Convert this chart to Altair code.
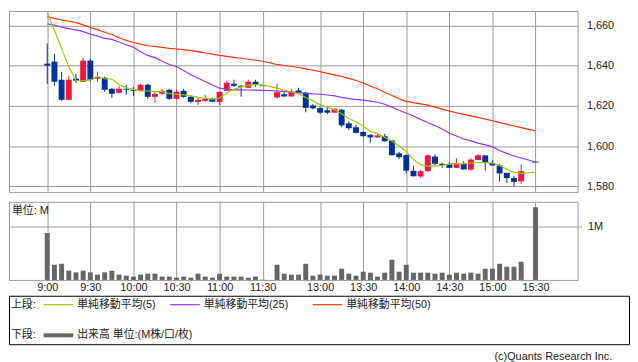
import altair as alt
import pandas as pd

# ---------------- data (5-minute bars) ----------------
times = ["9:00", "9:05", "9:10", "9:15", "9:20", "9:25", "9:30", "9:35", "9:40", "9:45",
         "9:50", "9:55", "10:00", "10:05", "10:10", "10:15", "10:20", "10:25", "10:30", "10:35",
         "10:40", "10:45", "10:50", "10:55", "11:00", "11:05", "11:10", "11:15", "11:20", "11:25",
         "11:30",
         "12:30", "12:35", "12:40", "12:45", "12:50", "12:55", "13:00", "13:05", "13:10", "13:15",
         "13:20", "13:25", "13:30", "13:35", "13:40", "13:45", "13:50", "13:55", "14:00", "14:05",
         "14:10", "14:15", "14:20", "14:25", "14:30", "14:35", "14:40", "14:45", "14:50", "14:55",
         "15:00", "15:05", "15:10", "15:15", "15:20", "15:30"]

opens = [1641, 1642, 1633, 1623, 1633.5, 1632, 1642.5, 1633.5, 1634, 1628.5,
         1626.5, 1628.5, 1628, 1627.5, 1630.5, 1624.5, 1626, 1628, 1623.5, 1627.5,
         1624.5, 1622, 1622.5, 1623.5, 1622, 1627.5, 1631, 1630, 1629, 1632, 1630,
         1624.2, 1625.8, 1624.7, 1627.7, 1626.5, 1620.2, 1618.9, 1617.8, 1616.6, 1618.1,
         1611.3, 1609.4, 1607, 1605.6, 1604.3, 1604.9, 1602.8, 1596.4, 1595.5, 1587.7,
         1584.9, 1587.5, 1594.8, 1591.2, 1591.2, 1589.2, 1591.2, 1588.3, 1593.1, 1595.4,
         1591.6, 1590.4, 1586.7, 1584.1, 1582.5, 1592]
highs = [1651, 1646, 1637, 1635, 1636, 1644, 1643.5, 1637, 1634.5, 1629,
         1630, 1630.5, 1629.5, 1631, 1631, 1627.5, 1628.5, 1628.5, 1628, 1628.5,
         1625, 1624, 1625.5, 1624, 1627, 1632.5, 1633, 1630.5, 1633, 1633, 1630,
         1631, 1627.5, 1628.5, 1629, 1627, 1621, 1619.3, 1619.3, 1618.6, 1618.5,
         1612.3, 1610.6, 1607.3, 1605.8, 1606.4, 1606.1, 1603, 1597.2, 1595.9, 1590.2,
         1588.1, 1595.9, 1595.9, 1591.7, 1592, 1593.9, 1592.5, 1593.9, 1595.9, 1595.4,
         1592.8, 1591.2, 1586.7, 1585.2, 1590.9, 1592]
lows = [1631, 1630, 1622.5, 1623, 1631.5, 1632, 1632, 1632, 1627, 1624,
        1626, 1625.5, 1625, 1627.5, 1623.5, 1621.5, 1625.5, 1623, 1623, 1624,
        1621.5, 1620.5, 1622, 1622, 1620.5, 1627.5, 1629.5, 1624.5, 1629, 1629.5, 1630,
        1623.5, 1624.2, 1624.5, 1625.8, 1616.8, 1618.3, 1616, 1615.8, 1616.6, 1609.4,
        1608, 1606.4, 1604.7, 1601.7, 1604.3, 1602.2, 1595.2, 1593.6, 1586.4, 1584.9,
        1584.3, 1587.3, 1590.4, 1589.2, 1589.2, 1589.2, 1588.4, 1587.8, 1593.1, 1587.9,
        1590.4, 1582.4, 1581.7, 1579.8, 1581.2, 1592]
closes = [1640, 1632, 1623, 1633, 1632.5, 1642.5, 1633, 1634.5, 1628, 1626,
          1628.5, 1628, 1627.5, 1630.5, 1624.5, 1626, 1627.5, 1623.5, 1627, 1624.5,
          1622, 1623, 1623.5, 1622, 1627, 1631.5, 1630, 1629.5, 1632, 1630.5, 1630,
          1626.8, 1624.7, 1627.1, 1626.3, 1619, 1618.8, 1616.6, 1616.6, 1618.6, 1610.3,
          1608.9, 1606.6, 1604.9, 1604.3, 1605.3, 1602.4, 1595.5, 1594.5, 1587.8, 1585,
          1587.5, 1595.4, 1591.2, 1590.4, 1589.2, 1591.6, 1588.4, 1593.3, 1595.4, 1591.9,
          1590.4, 1586.4, 1584.1, 1582.2, 1587.5, 1592]
volume_m = [0.877, 0.284, 0.302, 0.173, 0.142, 0.173, 0.142, 0.099, 0.142, 0.173,
            0.099, 0.080, 0.062, 0.099, 0.117, 0.117, 0.062, 0.062, 0.043, 0.062,
            0.043, 0.117, 0.062, 0.043, 0.117, 0.062, 0.062, 0.062, 0.043, 0.062, 0.006,
            0.284, 0.117, 0.099, 0.099, 0.302, 0.080, 0.099, 0.080, 0.080, 0.210,
            0.117, 0.080, 0.154, 0.136, 0.062, 0.136, 0.377, 0.154, 0.284, 0.136,
            0.136, 0.136, 0.117, 0.136, 0.099, 0.136, 0.117, 0.136, 0.117, 0.210,
            0.210, 0.302, 0.247, 0.247, 0.340, 1.358]
ma5 = [1666.3, 1657.6, 1648.6, 1639.4, 1632.5, 1632.5, 1632.9, 1634.6, 1633.5, 1633.3,
       1630.6, 1629, 1628.2, 1627.4, 1627.4, 1627.1, 1627.1, 1626.1, 1625.8, 1625.5,
       1625, 1624.2, 1623.9, 1623.4, 1623.9, 1626.4, 1628.3, 1629.3, 1630.3, 1630.6, 1630.5,
       1628.8, 1627.8, 1626.9, 1626.1, 1624.2, 1622.6, 1620.5, 1619.4, 1618.1, 1616.1,
       1613.7, 1612.1, 1610, 1607.3, 1606.2, 1604.4, 1602.5, 1600, 1597.3, 1593.3,
       1590.8, 1590, 1590, 1590.4, 1591, 1591.3, 1591.1, 1591.6, 1591.8, 1591.8,
       1591.6, 1590.4, 1588.5, 1586.9, 1586.4, 1587]
ma25 = [1660.8, 1660.2, 1659.2, 1658.4, 1657.8, 1656.9, 1655.7, 1654.7, 1653.6, 1653.1,
        1651.8, 1650.4, 1649.1, 1646.9, 1645.1, 1644, 1642.2, 1640.6, 1639.6, 1637.6,
        1635.5, 1633.7, 1632.1, 1630.4, 1628.8, 1628.2, 1628, 1628, 1627.9, 1627.8, 1627.7,
        1627.4, 1627.2, 1626.9, 1626.6, 1626.3, 1626, 1625.8, 1625.4, 1625, 1624.2,
        1623.6, 1623.2, 1622.9, 1622.4, 1621.8, 1620.8, 1619.4, 1617.8, 1616.3, 1615,
        1613.3, 1611.7, 1610.2, 1608.5, 1606.4, 1605, 1603.5, 1602.6, 1601.5, 1600.6,
        1599.6, 1597.8, 1596.4, 1595.1, 1594.1, 1592.1]
ma50 = [1664.3, 1663.5, 1662.7, 1662.1, 1661.4, 1660.3, 1659, 1657.9, 1656.6, 1655.5,
        1653.9, 1652.6, 1651.5, 1650.7, 1649.9, 1649.6, 1649.1, 1648.6, 1648.3, 1648,
        1647.5, 1647, 1646.3, 1645.7, 1645.1, 1644.6, 1644.1, 1643.7, 1643.2, 1642.7, 1642.2,
        1640.6, 1640.1, 1639.6, 1639.1, 1638.4, 1637.7, 1637, 1636.2, 1635.4, 1634.6,
        1633.7, 1632.6, 1631.4, 1629.9, 1628.5, 1626.8, 1625.2, 1623.6, 1622.2, 1621.6,
        1621, 1620.4, 1619.4, 1618.4, 1617.4, 1616.6, 1615.8, 1615, 1614.2, 1613.4,
        1612.6, 1611.7, 1610.8, 1610, 1609.2, 1607.6]

tick_times = ["9:00", "9:30", "10:00", "10:30", "11:00", "11:30",
              "13:00", "13:30", "14:00", "14:30", "15:00", "15:30"]
price_ticks = [1580, 1600, 1620, 1640, 1660]

legend_title_top = "上段:"
legend_title_bottom = "下段:"
ma_labels = ["単純移動平均(5)", "単純移動平均(25)", "単純移動平均(50)"]
vol_label = "出来高 単位:(M株/口/枚)"
unit_label = "単位: M"
copyright_label = "(c)Quants Research Inc."

# ---------------- styling ----------------
FONT = "Liberation Sans, Noto Sans CJK JP, sans-serif"
GRID = "#9a9a9a"
UP = "#f0163c"
DOWN = "#003399"
MA_COLORS = ["#99cc00", "#9933ff", "#ff3300"]
VOL_COLOR = "#666666"
TEXT = "#222222"


def slot(t):
    # broken time axis: morning session, then afternoon session (lunch compressed)
    h, m = map(int, t.split(":"))
    mins = h * 60 + m
    return (mins - 540) / 5 if mins <= 690 else (mins - 750) / 5 + 32


df = pd.DataFrame({"t": times, "o": opens, "h": highs, "l": lows, "c": closes,
                   "v": volume_m, "ma5": ma5, "ma25": ma25, "ma50": ma50})
df["slot"] = [slot(t) for t in times]

tick_slots = [slot(t) for t in tick_times]
label_expr = "".join(f"datum.value == {s} ? '{t}' : " for s, t in zip(tick_slots, tick_times)) + "''"

W = 575
H_PRICE = 183
H_VOL = 79

xscale = alt.Scale(domain=[-4.64, 73.17], nice=False, zero=False)
pscale = alt.Scale(domain=[1577.2, 1667.2], nice=False, zero=False)

x_price_axis = alt.Axis(values=tick_slots, grid=True, labels=False, ticks=False,
                        domain=False, title=None)
y_price_axis = alt.Axis(orient="right", values=price_ticks, format=",d", grid=True,
                        ticks=False, domain=False, title=None, labelPadding=9)


def X(field="slot"):
    return alt.X(f"{field}:Q", scale=xscale, axis=x_price_axis)


def Y(field):
    return alt.Y(f"{field}:Q", scale=pscale, axis=y_price_axis)


candle_color = alt.condition("datum.c > datum.o", alt.value(UP), alt.value(DOWN))

base = alt.Chart(df)
wicks = base.mark_rule(strokeWidth=1).encode(x=X(), y=Y("l"), y2="h:Q", color=candle_color)
bodies = base.mark_bar(size=6).encode(x=X(), y=Y("o"), y2="c:Q", color=candle_color)
dojis = base.transform_filter("datum.o == datum.c").mark_tick(
    orient="horizontal", size=7, thickness=1.2).encode(x=X(), y=Y("c"), color=candle_color)
ma_lines = [base.mark_line(color=col, strokeWidth=1.2, clip=True).encode(x=X(), y=Y(f))
            for f, col in zip(["ma50", "ma25", "ma5"], MA_COLORS[::-1])]

price = alt.layer(wicks, bodies, dojis, *ma_lines).properties(width=W, height=H_PRICE)

# ---------------- volume panel ----------------
vol_bars = alt.Chart(df).mark_bar(size=5, color=VOL_COLOR).encode(
    x=alt.X("slot:Q", scale=xscale,
            axis=alt.Axis(values=tick_slots, labelExpr=label_expr, grid=True, ticks=False,
                          domain=False, title=None, labelPadding=2, labelFontSize=11,
                          labelFlush=False, labelOverlap=False)),
    y=alt.Y("v:Q", scale=alt.Scale(domain=[0, 1.46], nice=False),
            axis=alt.Axis(orient="right", values=[1], labelExpr="'1M'", grid=True,
                          ticks=True, tickSize=4, tickColor=GRID, domain=False,
                          title=None, labelPadding=6)),
)
unit_text = alt.Chart(pd.DataFrame({"s": [unit_label]})).mark_text(
    align="left", baseline="middle", fontSize=11, color=TEXT).encode(
    text="s:N", x=alt.value(3), y=alt.value(9))
volume = alt.layer(vol_bars, unit_text).properties(width=W, height=H_VOL)

# ---------------- legend panel ----------------
LW, LH = 627, 49
ROW1, ROW2 = 9, 40


def txt(s, x, y, align="left"):
    return alt.Chart(pd.DataFrame({"s": [s]})).mark_text(
        align=align, baseline="middle", fontSize=11, color=TEXT).encode(
        text="s:N", x=alt.value(x), y=alt.value(y))


def sample(color, x1, x2, y, w):
    return alt.Chart(pd.DataFrame({"s": [0]})).mark_rule(color=color, strokeWidth=w).encode(
        x=alt.value(x1), x2=alt.value(x2), y=alt.value(y))


leg_layers = [txt(legend_title_top, 2, ROW1)]
for lab, col, x0 in zip(ma_labels, MA_COLORS, [35, 163, 307]):
    leg_layers.append(sample(col, x0, x0 + 30, ROW1, 1.2))
    leg_layers.append(txt(lab, x0 + 34, ROW1))
leg_layers.append(txt(legend_title_bottom, 2, ROW2))
leg_layers.append(sample(VOL_COLOR, 35, 65, ROW2, 4))
leg_layers.append(txt(vol_label, 69, ROW2))
leg_layers.append(txt(copyright_label, 610, 62, align="right"))

legend = alt.layer(*leg_layers).properties(
    width=LW, height=LH, view=alt.ViewBackground(stroke="black", strokeWidth=1))

chart = alt.vconcat(
    alt.vconcat(price, volume, spacing=8),
    legend,
    spacing=1,
).properties(padding=0).configure_view(stroke=GRID, strokeWidth=1).configure_axis(
    labelFont=FONT, labelFontSize=11, labelColor=TEXT, gridColor=GRID, gridWidth=1,
    gridOpacity=1
).configure_text(font=FONT)

chart.save("out.html", embed_options={"renderer": "svg", "actions": False})
